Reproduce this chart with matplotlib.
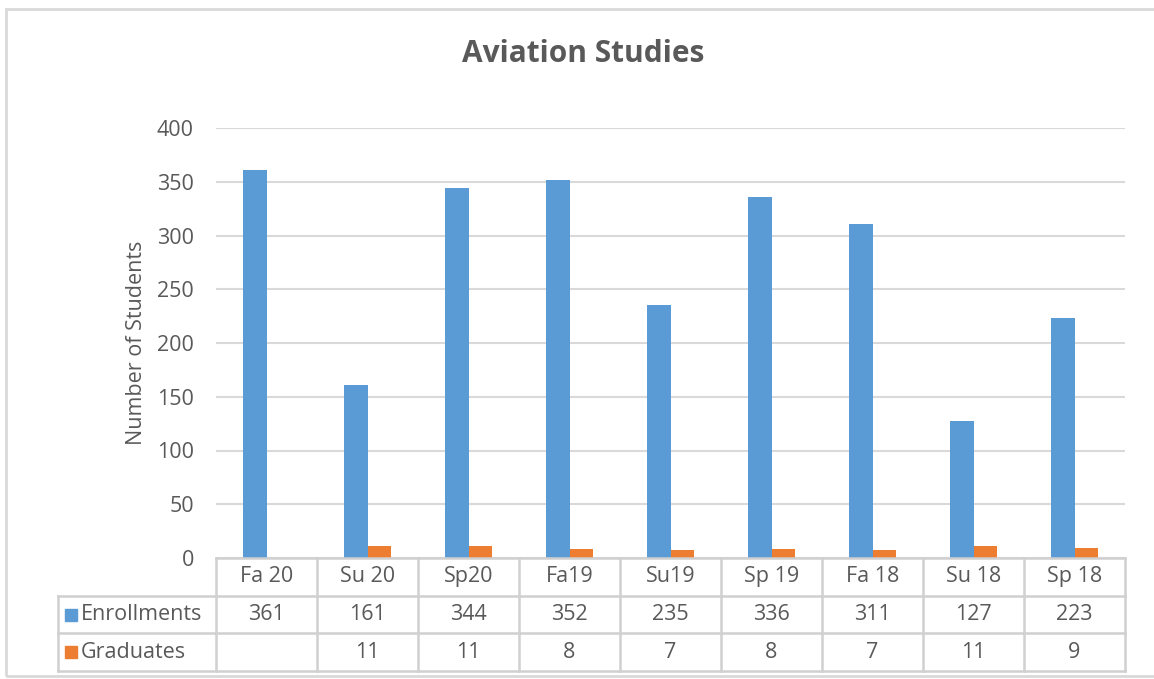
import matplotlib.pyplot as plt
from matplotlib.patches import Rectangle
import numpy as np

terms = ['Fa 20', 'Su 20', 'Sp20', 'Fa19', 'Su19', 'Sp 19', 'Fa 18', 'Su 18', 'Sp 18']
enrollments = [361, 161, 344, 352, 235, 336, 311, 127, 223]
graduates = [None, 11, 11, 8, 7, 8, 7, 11, 9]
series_names = ['Enrollments', 'Graduates']
yticks = [0, 50, 100, 150, 200, 250, 300, 350, 400]

BLUE = '#5B9BD5'
ORANGE = '#ED7D31'
GRID = '#D9D9D9'
TEXT = '#595959'
FS = 15.5

plt.rcParams['font.family'] = ['Open Sans', 'DejaVu Sans']

W, H = 1154, 679
fig = plt.figure(figsize=(W / 100, H / 100), dpi=100)


def fx(px):
    return px / W


def fy(px):
    return 1 - px / H


# outer chart frame
fig.patches.append(Rectangle((fx(6), fy(676)), fx(1160) - fx(6), fy(9) - fy(676),
                             transform=fig.transFigure, fill=False,
                             edgecolor=GRID, linewidth=2))

fig.text(fx(583), fy(54), 'Aviation Studies', ha='center', va='center',
         fontsize=21.5, fontweight='bold', color=TEXT)

# bar chart
ax = fig.add_axes([fx(216), fy(558), fx(1125) - fx(216), fy(128) - fy(558)])
x = np.arange(len(terms))
bw = 0.23
ax.bar(x - bw / 2, enrollments, bw, color=BLUE, zorder=2)
grad_vals = [g if g is not None else 0 for g in graduates]
ax.bar(x + bw / 2, grad_vals, bw, color=ORANGE, zorder=2)
ax.set_xlim(-0.5, len(terms) - 0.5)
ax.set_ylim(0, 400)
ax.set_yticks(yticks)
ax.set_xticks([])
ax.tick_params(axis='y', length=0, pad=16, labelsize=FS, labelcolor=TEXT)
ax.yaxis.grid(True, color=GRID, linewidth=1.5, zorder=0)
for s in ax.spines.values():
    s.set_visible(False)
ax.set_ylabel('Number of Students', fontsize=FS, color=TEXT, labelpad=7)

# data table under the bars
tab = fig.add_axes([fx(216), fy(671), fx(1125) - fx(216), fy(558) - fy(671)])
tab.set_xlim(-0.5, len(terms) - 0.5)
tab.set_ylim(3, 0)
tab.axis('off')
left = -0.5 - (216 - 58) / 101.0
lc = '#D0D0D0'
lw = 1.8
tab.plot([-0.5, len(terms) - 0.5], [0, 0], color=lc, lw=lw, clip_on=False)
for r in [1, 2, 3]:
    tab.plot([left, len(terms) - 0.5], [r, r], color=lc, lw=lw, clip_on=False)
for k in range(len(terms) + 1):
    tab.plot([k - 0.5, k - 0.5], [0, 3], color=lc, lw=lw, clip_on=False)
tab.plot([left, left], [1, 3], color=lc, lw=lw, clip_on=False)

for i, t in enumerate(terms):
    tab.text(i, 0.5, t, ha='center', va='center', fontsize=FS, color=TEXT)
    tab.text(i, 1.5, str(enrollments[i]), ha='center', va='center',
             fontsize=FS, color=TEXT)
    if graduates[i] is not None:
        tab.text(i, 2.5, str(graduates[i]), ha='center', va='center',
                 fontsize=FS, color=TEXT)

for r, (name, col) in enumerate(zip(series_names, [BLUE, ORANGE])):
    tab.plot([left + 0.13], [r + 1.5], marker='s', markersize=8.5, color=col,
             linestyle='none', clip_on=False)
    tab.text(left + 0.225, r + 1.5, name, ha='left', va='center',
             fontsize=FS, color=TEXT)

fig.savefig('out.png', dpi=100, facecolor='white')
